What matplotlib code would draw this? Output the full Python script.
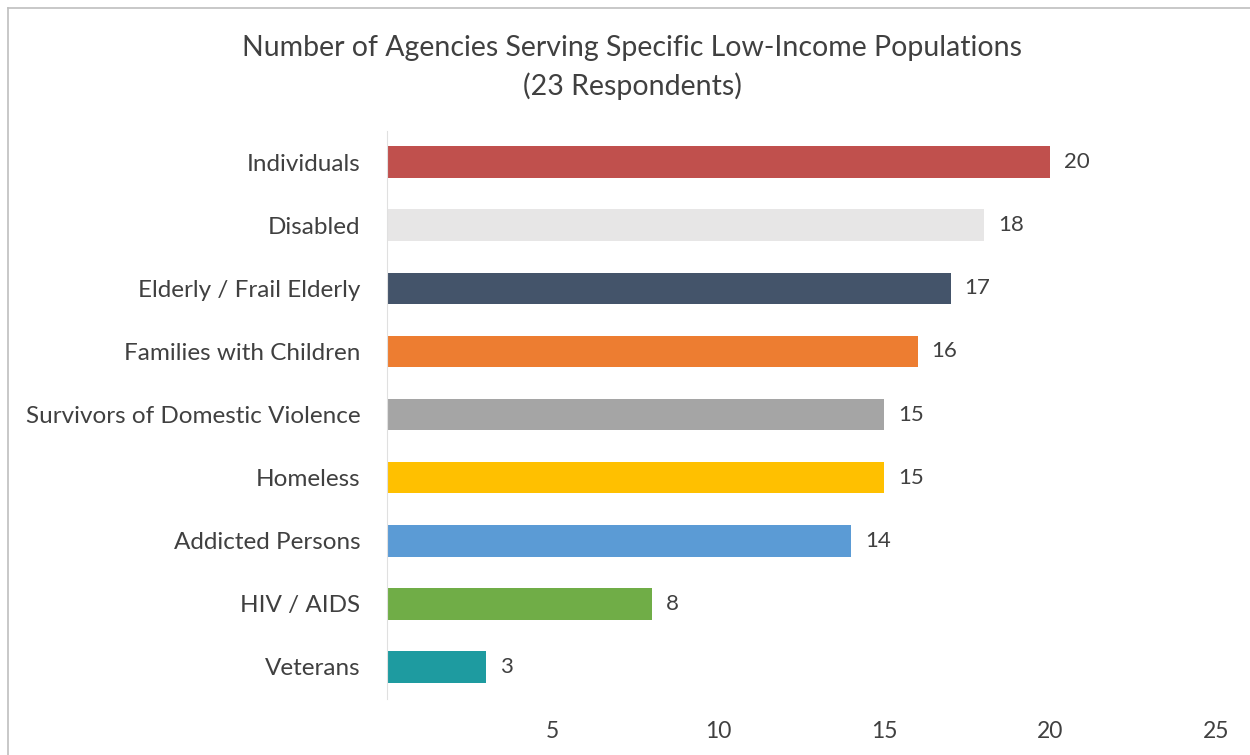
import matplotlib.pyplot as plt
from matplotlib.lines import Line2D

categories = ['Individuals', 'Disabled', 'Elderly / Frail Elderly', 'Families with Children',
              'Survivors of Domestic Violence', 'Homeless', 'Addicted Persons', 'HIV / AIDS', 'Veterans']
values = [20, 18, 17, 16, 15, 15, 14, 8, 3]
colors = ['#C0504D', '#E7E6E6', '#44546A', '#ED7D31', '#A5A5A5',
          '#FFC000', '#5B9BD5', '#70AD47', '#1E9BA0']
ticks = [5, 10, 15, 20, 25]

plt.rcParams['font.family'] = ['Lato', 'DejaVu Sans']
text_color = '#404040'

fig = plt.figure(figsize=(12.5, 7.55), dpi=100)
ax = fig.add_axes([0.3096, 0.0748, 0.6632, 0.7523])

y = list(range(len(categories)))
ax.barh(y, values, height=0.5, color=colors)
for yi, v in zip(y, values):
    ax.text(v + 0.42, yi, str(v), va='center', ha='left', fontsize=16, color=text_color)

ax.set_xlim(0, 25)
ax.set_ylim(len(categories) - 0.5, -0.5)
ax.set_yticks(y)
ax.set_yticklabels(categories, fontsize=17.5, color=text_color)
ax.set_xticks(ticks)
ax.set_xticklabels([str(t) for t in ticks], fontsize=16.5, color=text_color)
ax.tick_params(length=0)
ax.tick_params(axis='y', pad=19)
ax.tick_params(axis='x', pad=16)
for s in ['top', 'right', 'bottom']:
    ax.spines[s].set_visible(False)
ax.spines['left'].set_color('#E0E0E0')

fig.text(0.5056, 0.936, 'Number of Agencies Serving Specific Low-Income Populations',
         ha='center', va='center', fontsize=20.5, color=text_color)
fig.text(0.5056, 0.886, '(23 Respondents)', ha='center', va='center', fontsize=20.5, color=text_color)

# chart border
fig.add_artist(Line2D([8 / 1250, 1], [1 - 8 / 755, 1 - 8 / 755], color='#BFBFBF', lw=1.2))
fig.add_artist(Line2D([8 / 1250, 8 / 1250], [0, 1 - 8 / 755], color='#BFBFBF', lw=1.2))

fig.savefig('out.png', dpi=100)
